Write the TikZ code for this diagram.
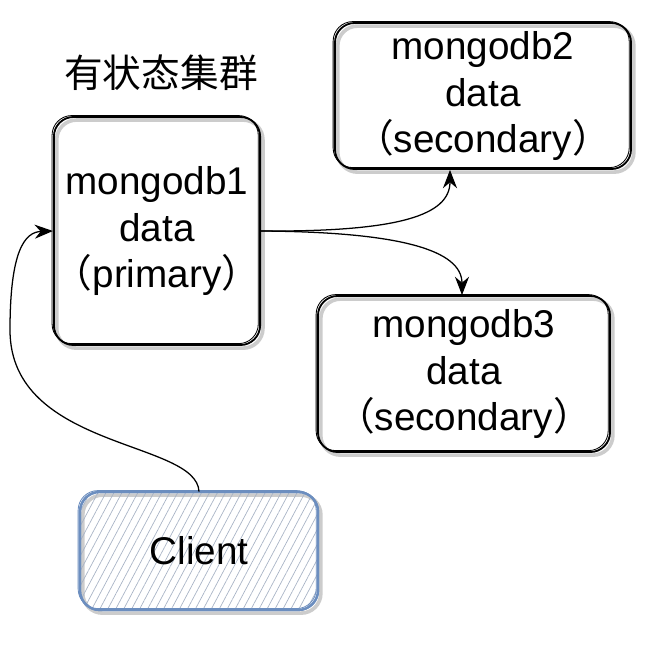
\documentclass[tikz,border=0pt]{standalone}
\usepackage{fontspec}
\setmainfont{Liberation Sans}
\newfontfamily\cjk{Noto Sans CJK SC}
\usetikzlibrary{arrows.meta,patterns.meta}
\definecolor{clientblue}{HTML}{6C8EBF}
\definecolor{hatch}{HTML}{A9B4C6}
\tikzset{
  box/.style={draw, line width=1.3pt, rounded corners=14pt, align=center, inner sep=0pt,
    font=\fontsize{27.5}{33}\selectfont,
    preaction={draw=gray!40, line width=2.6pt, transform canvas={shift={(2pt,-2.2pt)}}},
    postaction={draw, line width=0.6pt, transform canvas={shift={(-1.3pt,1pt)}}}},
  link/.style={-{Stealth[length=13pt,width=10pt]}, line width=0.9pt},
}
\newcommand{\lp}{{\cjk （}}
\newcommand{\rp}{{\cjk ）}}
\begin{document}
\begin{tikzpicture}[x=0.025cm,y=-0.025cm]
                    \useasboundingbox (0,0) rectangle (660,647);

                    \node (T) at (161,73) {\fontsize{27.5}{33}\selectfont\cjk 有状态集群};

                    \node [box, minimum width=4.9cm, minimum height=5.7cm] (M1) at (157,231)
                        {mongodb1\\data\\\lp primary\rp};
                    \node [box, minimum width=7.4cm, minimum height=3.65cm] (M2) at (483,96)
                        {mongodb2\\data\\\lp secondary\rp};
                    \node [box, minimum width=7.3cm, minimum height=3.9cm] (M3) at (464,374)
                        {mongodb3\\data\\\lp secondary\rp};
                    \node [box, draw=clientblue, line width=1.6pt,
                           postaction={draw=clientblue},
                           pattern={Lines[angle=62,distance=5pt,line width=0.5pt]}, pattern color=hatch,
                           minimum width=5.95cm, minimum height=2.95cm] (CL) at (199,551) {Client};

                    \draw [link] (M1.east) .. controls (400,232) and (450,215) .. (M2.south -| 450,0);
                    \draw [link] (M1.east) .. controls (400,232) and (462,250) .. (M3.north -| 462,0);
                    \draw [link] (CL.north) .. controls (197,440) and (10,450) .. (10,330)
                                 .. controls (10,250) and (25,232) .. (M1.west);
                \end{tikzpicture}
\end{document}
